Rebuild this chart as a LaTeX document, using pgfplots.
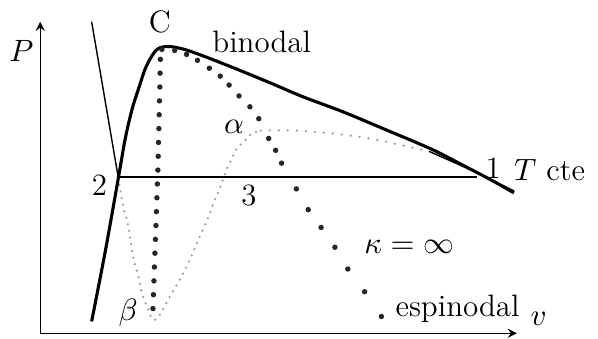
\documentclass[border=0pt]{standalone}
\usepackage{pgfplots}
\pgfplotsset{compat=1.18}

\begin{document}
\begin{tikzpicture}[every node/.style={font=\fontsize{11}{13}\selectfont}]
  \begin{axis}[
    hide axis,
    x=0.3512pt, y=0.3512pt,
    xmin=0, xmax=598, ymin=0, ymax=342,
    clip=false,
    ]
    % frame of the picture
    \addplot[draw=none] coordinates {(0,0) (598,342)};

    % axes
    \addplot[-stealth, line width=0.45pt] coordinates {(34,5) (34,320)};
    \addplot[-stealth, line width=0.45pt] coordinates {(34,5) (516,5)};

    % isotherm: liquid branch and tie line
    \addplot[line width=0.5pt] coordinates {(86,320) (113,162)};
    \addplot[line width=0.5pt] coordinates {(113,163) (476,163)};
    \addplot[line width=0.5pt] coordinates {(427,189) (470,170) (513,149)};

    % isotherm: unstable part (light dots)
    \addplot[smooth, gray!75, line width=0.9pt, line cap=round,
             dash pattern=on 0pt off 2.4pt] coordinates {
      (113,162) (115,149) (119,129) (122,119) (125,101) (129,77) (133,64)
      (137,45) (142,32) (147,20) (151,19) (157,27) (165,42) (175,59)
      (185,79) (195,102) (203,120) (210,139) (215,150) (223,172) (228,182)
      (233,192) (240,199) (248,207) (257,210)
    };
    \addplot[smooth, gray!75, line width=0.9pt, line cap=round,
             dash pattern=on 0pt off 3.2pt] coordinates {
      (257,210) (290,210) (330,207) (367,202) (400,195) (427,189)
    };

    % binodal
    \addplot[smooth, line width=1.1pt] coordinates {
      (86,17) (100,89) (113,162) (120,202) (127,232) (134,254) (140,272)
      (146,284) (151,291) (156,294) (165,295) (180,292) (200,285) (233,272)
      (267,258) (300,244) (340,229) (383,211) (430,191) (467,172) (490,160)
      (513,147)
    };

    % spinodal (kappa = infinity)
    \addplot[only marks, mark=*, mark size=0.75pt, black!85] coordinates {
      (148,30) (148.5,44) (149,58) (149.5,72) (150,86) (150.5,100) (151,114)
      (151.5,128) (152,142) (152.5,156) (153,170) (153.3,184) (153.6,198)
      (154,212) (154.3,226) (154.6,240) (155,254) (155.2,268) (155.5,282)
      (157,292) (170,291) (182,287) (193,281) (205,273) (216,265) (225,256)
      (235,245) (246,234) (255,222) (265,202) (272,190) (278,177) (293,151)
      (305,130) (318,112) (332,92) (345,70) (362,47) (379,22)
    };

    % labels
    \node at (axis cs:15,290) {$P$};
    \node at (axis cs:155,320) {C};
    \node at (axis cs:258,300) {binodal};
    \node at (axis cs:230,214) {$\alpha$};
    \node at (axis cs:94,155) {2};
    \node at (axis cs:245,144) {3};
    \node at (axis cs:492,172) {1};
    \node[anchor=west] at (axis cs:503,170) {$T$ cte};
    \node at (axis cs:407,92) {$\kappa=\infty$};
    \node at (axis cs:123,26) {$\beta$};
    \node at (axis cs:456,30) {espinodal};
    \node at (axis cs:538,20) {$v$};
  \end{axis}
\end{tikzpicture}
\end{document}
